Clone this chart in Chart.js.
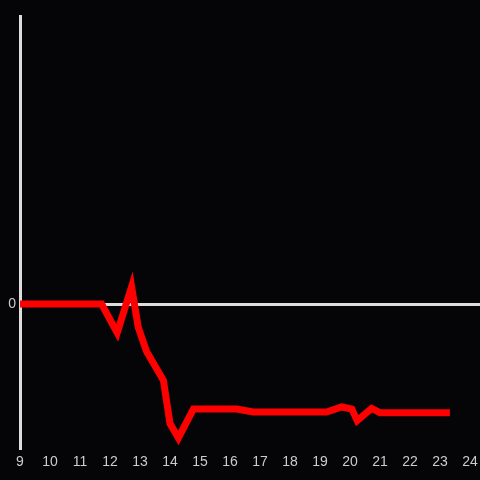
<!DOCTYPE html>
<html>
<head>
<meta charset="utf-8">
<script src="https://cdn.jsdelivr.net/npm/chart.js@4"></script>
<style>
html,body{margin:0;padding:0;background:#050407;}
#wrap{width:480px;height:480px;}
</style>
</head>
<body>
<div id="wrap"><canvas id="c" width="480" height="480"></canvas></div>
<script>
const xValues = [9, 11.72, 12.24, 12.72, 12.94, 13.22, 13.78, 14.0, 14.28, 14.78, 16.22, 16.78, 19.22, 19.72, 20.06, 20.24, 20.72, 21.0, 23.33];
const yValues = [0, 0, -0.2, 0.12, -0.16, -0.33, -0.53, -0.83, -0.93, -0.73, -0.73, -0.75, -0.75, -0.715, -0.73, -0.81, -0.725, -0.755, -0.755];
const xTicks = [9,10,11,12,13,14,15,16,17,18,19,20,21,22,23,24];
const yTicks = [0];

const points = xValues.map((x, i) => ({x: x, y: yValues[i]}));

new Chart(document.getElementById('c'), {
  type: 'line',
  data: {
    datasets: [{
      data: points,
      borderColor: '#ff0000',
      borderWidth: 7,
      pointRadius: 0,
      tension: 0,
      fill: false
    }]
  },
  options: {
    responsive: false,
    animation: false,
    layout: {padding: {top: 16, right: 0, left: 0, bottom: 0}},
    plugins: {legend: {display: false}, tooltip: {enabled: false}},
    scales: {
      x: {
        type: 'linear',
        min: 9,
        max: 24.333,
        afterBuildTicks: s => { s.ticks = xTicks.map(v => ({value: v})); },
        afterFit: s => { s.height = 32; s.paddingLeft = 0; s.paddingRight = 0; },
        grid: {display: false, drawTicks: false},
        border: {display: false},
        ticks: {color: '#cccccc', font: {family: 'Liberation Sans, Arial, sans-serif', size: 14}, padding: 6, maxRotation: 0, autoSkip: false}
      },
      y: {
        type: 'linear',
        min: -1,
        max: 2,
        afterBuildTicks: s => { s.ticks = yTicks.map(v => ({value: v})); },
        afterFit: s => { s.width = 20; s.paddingTop = 0; s.paddingBottom = 0; },
        grid: {
          drawTicks: false,
          color: c => (c.tick && c.tick.value === 0) ? '#dddddd' : 'rgba(0,0,0,0)',
          lineWidth: 3
        },
        border: {display: true, color: '#dddddd', width: 3},
        ticks: {color: '#cccccc', font: {family: 'Liberation Sans, Arial, sans-serif', size: 14}, padding: 4}
      }
    }
  }
});
</script>
</body>
</html>
